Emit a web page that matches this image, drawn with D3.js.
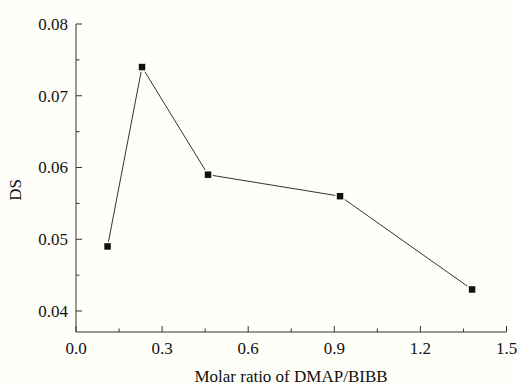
<!DOCTYPE html>
<html>
<head>
<meta charset="utf-8">
<script src="https://cdn.jsdelivr.net/npm/d3@7"></script>
<style>
  html, body { margin: 0; padding: 0; background: #fffffa; }
  svg { display: block; }
</style>
</head>
<body>
<svg id="chart" width="517" height="386"></svg>
<script>
// Degree of substitution vs. DMAP/BIBB molar ratio
const molarRatio = [0.11, 0.23, 0.46, 0.92, 1.38];
const dsValues   = [0.049, 0.074, 0.059, 0.056, 0.043];
const xTicks = [0.0, 0.3, 0.6, 0.9, 1.2, 1.5];
const yTicks = [0.04, 0.05, 0.06, 0.07, 0.08];
const xMinorTicks = [0.15, 0.45, 0.75, 1.05, 1.35];
const yMinorTicks = [0.045, 0.055, 0.065, 0.075];
const xTitle = "Molar ratio of DMAP/BIBB";
const yTitle = "DS";

const serif = "'Times New Roman', 'Liberation Serif', 'DejaVu Serif', serif";
const svg = d3.select("#chart")
  .style("font-family", serif);
const plotLeft = 76, plotRight = 506.5, plotTop = 24, plotBottom = 332;

const x = d3.scaleLinear().domain([0, 1.5]).range([plotLeft, plotRight]);
const y = d3.scaleLinear().domain([0.04, 0.08]).range([311, plotTop]);

const axisColor = "#333";
const textColor = "#111";

// Left axis (ticks point inward)
const gy = svg.append("g").attr("transform", `translate(${plotLeft},0)`);
gy.append("line").attr("x1", 0).attr("x2", 0).attr("y1", plotTop).attr("y2", plotBottom)
  .attr("stroke", axisColor).attr("stroke-width", 1);
gy.selectAll("line.major").data(yTicks).join("line").attr("class", "major")
  .attr("x1", 0).attr("x2", 6).attr("y1", d => y(d)).attr("y2", d => y(d))
  .attr("stroke", axisColor);
gy.selectAll("line.minor").data(yMinorTicks).join("line").attr("class", "minor")
  .attr("x1", 0).attr("x2", 3.5).attr("y1", d => y(d)).attr("y2", d => y(d))
  .attr("stroke", axisColor);
gy.selectAll("text").data(yTicks).join("text")
  .attr("x", -8).attr("y", d => y(d)).attr("dy", "0.35em")
  .attr("text-anchor", "end").attr("font-size", 17)
  .attr("font-family", serif).attr("fill", textColor)
  .text(d => d3.format(".2f")(d));

// Bottom axis (ticks point inward)
const gx = svg.append("g").attr("transform", `translate(0,${plotBottom})`);
gx.append("line").attr("x1", plotLeft).attr("x2", plotRight).attr("y1", 0).attr("y2", 0)
  .attr("stroke", axisColor);
gx.selectAll("line.major").data(xTicks).join("line").attr("class", "major")
  .attr("x1", d => x(d)).attr("x2", d => x(d)).attr("y1", 0).attr("y2", -6)
  .attr("stroke", axisColor);
gx.selectAll("line.minor").data(xMinorTicks).join("line").attr("class", "minor")
  .attr("x1", d => x(d)).attr("x2", d => x(d)).attr("y1", 0).attr("y2", -3.5)
  .attr("stroke", axisColor);
gx.selectAll("text").data(xTicks).join("text")
  .attr("x", d => x(d)).attr("y", 22).attr("text-anchor", "middle")
  .attr("font-size", 17).attr("font-family", serif).attr("fill", textColor)
  .text(d => d3.format(".1f")(d));

// Axis titles
svg.append("text").attr("x", 291).attr("y", 382).attr("text-anchor", "middle")
  .attr("font-size", 17).attr("font-family", serif).attr("fill", textColor)
  .text(xTitle);
svg.append("text").attr("transform", `translate(21,${(plotTop + plotBottom) / 2 + 12}) rotate(-90)`)
  .attr("text-anchor", "middle").attr("font-size", 17)
  .attr("font-family", serif).attr("fill", textColor)
  .text(yTitle);

// Data line and square markers
const pts = molarRatio.map((v, i) => [v, dsValues[i]]);
svg.append("path").datum(pts)
  .attr("d", d3.line().x(d => x(d[0])).y(d => y(d[1])))
  .attr("fill", "none").attr("stroke", "#333").attr("stroke-width", 1);

const s = 8;
svg.selectAll("rect.pt").data(pts).join("rect").attr("class", "pt")
  .attr("x", d => x(d[0]) - s / 2).attr("y", d => y(d[1]) - s / 2)
  .attr("width", s).attr("height", s)
  .attr("fill", "#111").attr("stroke", "#fffffa").attr("stroke-width", 1.5);
</script>
</body>
</html>
